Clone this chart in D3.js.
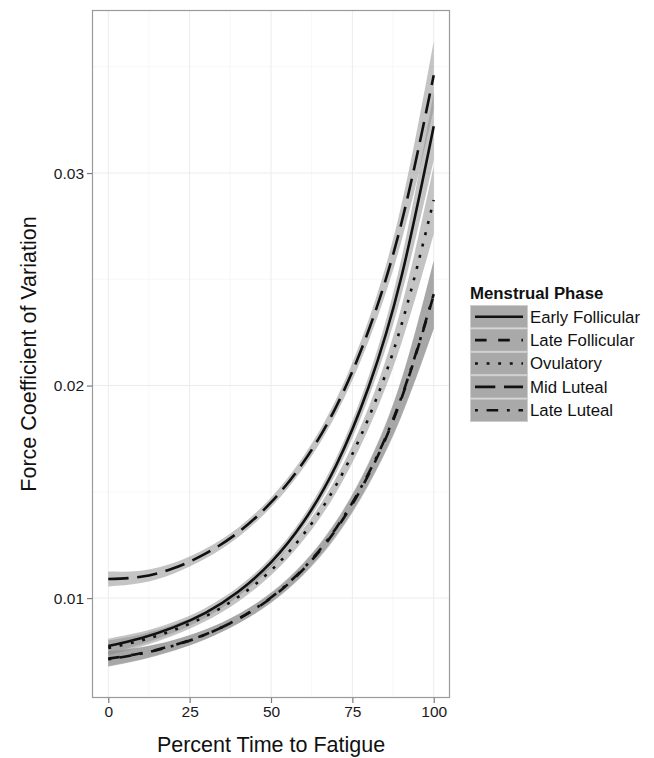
<!DOCTYPE html>
<html>
<head>
<meta charset="utf-8">
<script src="https://cdn.jsdelivr.net/npm/d3@7"></script>
<style>
  body { margin: 0; background: #fff; }
  svg { display: block; font-family: "Liberation Sans", Arial, sans-serif; }
</style>
</head>
<body>
<script>
const w = 654;
const h = 758;

// values (percent time to fatigue -> force CV)
const pctTime = [0, 10, 20, 30, 40, 50, 60, 70, 80, 90, 100];
const earlyFollicular = [0.00774, 0.00811, 0.00862, 0.00932, 0.01031, 0.01168, 0.01359, 0.01624, 0.01993, 0.02507, 0.03220];
const lateFollicular = [0.00715, 0.00740, 0.00778, 0.00830, 0.00902, 0.01000, 0.01136, 0.01323, 0.01581, 0.01936, 0.02426];
const ovulatory = [0.00765, 0.00800, 0.00849, 0.00915, 0.01006, 0.01130, 0.01300, 0.01531, 0.01848, 0.02281, 0.02873];
const midLuteal = [0.01090, 0.01100, 0.01140, 0.01210, 0.01310, 0.01450, 0.01640, 0.01900, 0.02260, 0.02760, 0.03460];
const lateLuteal = [0.00712, 0.00738, 0.00776, 0.00829, 0.00903, 0.01003, 0.01140, 0.01329, 0.01588, 0.01942, 0.02430];
// half width of the confidence band
const bandHalf = [0.00035, 0.00029, 0.00025, 0.00023, 0.00022, 0.00023, 0.00027, 0.00035, 0.00050, 0.00085, 0.00160];

const phases = ["Early Follicular", "Late Follicular", "Ovulatory", "Mid Luteal", "Late Luteal"];
const xTicks = [0, 25, 50, 75, 100];
const xMinor = [12.5, 37.5, 62.5, 87.5];
const yTicks = [0.01, 0.02, 0.03];
const yMinor = [0.015, 0.025, 0.035];

const seriesValues = [earlyFollicular, lateFollicular, ovulatory, midLuteal, lateLuteal];
// R linetypes: solid, dashed, dotted, longdash, dotdash
const dashUnits = [null, [4, 4], [1, 3], [7, 3], [1, 3, 4, 3]];
const unit = 2.9;
const lineW = 2.6;

const panel = { left: 92, right: 450, top: 10, bottom: 698 };

const series = phases.map((name, i) => ({
    name: name,
    dash: dashUnits[i] ? dashUnits[i].map(d => d * unit).join(",") : null,
    points: pctTime.map((t, j) => ({ t: t, v: seriesValues[i][j], lo: seriesValues[i][j] - bandHalf[j], hi: seriesValues[i][j] + bandHalf[j] }))
}));

// ggplot style 5% expansion
const xExt = d3.extent(pctTime);
const xPad = (xExt[1] - xExt[0]) * 0.05;
const allLo = d3.min(series, s => d3.min(s.points, p => p.lo));
const allHi = d3.max(series, s => d3.max(s.points, p => p.hi));
const yPad = (allHi - allLo) * 0.05;

const xScale = d3.scaleLinear()
    .domain([xExt[0] - xPad, xExt[1] + xPad])
    .range([panel.left, panel.right]);

const yScale = d3.scaleLinear()
    .domain([allLo - yPad, allHi + yPad])
    .range([panel.bottom, panel.top]);

const svg = d3.select("body")
    .append("svg")
    .attr("width", w)
    .attr("height", h);

svg.append("rect")
    .attr("x", panel.left).attr("y", panel.top)
    .attr("width", panel.right - panel.left).attr("height", panel.bottom - panel.top)
    .attr("fill", "#fff");

// grid
const grid = svg.append("g");
grid.selectAll(".xminor").data(xMinor).enter().append("line")
    .attr("x1", d => xScale(d)).attr("x2", d => xScale(d))
    .attr("y1", panel.top).attr("y2", panel.bottom)
    .attr("stroke", "#f5f5f5").attr("stroke-width", 0.8);
grid.selectAll(".yminor").data(yMinor).enter().append("line")
    .attr("y1", d => yScale(d)).attr("y2", d => yScale(d))
    .attr("x1", panel.left).attr("x2", panel.right)
    .attr("stroke", "#f5f5f5").attr("stroke-width", 0.8);
grid.selectAll(".xmajor").data(xTicks).enter().append("line")
    .attr("x1", d => xScale(d)).attr("x2", d => xScale(d))
    .attr("y1", panel.top).attr("y2", panel.bottom)
    .attr("stroke", "#ececec").attr("stroke-width", 1);
grid.selectAll(".ymajor").data(yTicks).enter().append("line")
    .attr("y1", d => yScale(d)).attr("y2", d => yScale(d))
    .attr("x1", panel.left).attr("x2", panel.right)
    .attr("stroke", "#ececec").attr("stroke-width", 1);

// clip to the panel
svg.append("clipPath").attr("id", "clip")
    .append("rect")
    .attr("x", panel.left).attr("y", panel.top)
    .attr("width", panel.right - panel.left).attr("height", panel.bottom - panel.top);

const plot = svg.append("g").attr("clip-path", "url(#clip)");

const band = d3.area()
    .x(d => xScale(d.t))
    .y0(d => yScale(d.lo))
    .y1(d => yScale(d.hi))
    .curve(d3.curveNatural);

const line = d3.line()
    .x(d => xScale(d.t))
    .y(d => yScale(d.v))
    .curve(d3.curveNatural);

plot.selectAll(".band").data(series).enter().append("path")
    .attr("d", d => band(d.points))
    .attr("fill", "#8a8a8a")
    .attr("fill-opacity", 0.5);

plot.selectAll(".line").data(series).enter().append("path")
    .attr("d", d => line(d.points))
    .attr("fill", "none")
    .attr("stroke", "#111")
    .attr("stroke-width", lineW)
    .attr("stroke-dasharray", d => d.dash);

// panel border
svg.append("rect")
    .attr("x", panel.left + 0.5).attr("y", panel.top + 0.5)
    .attr("width", panel.right - panel.left - 1).attr("height", panel.bottom - panel.top - 1)
    .attr("fill", "none")
    .attr("stroke", "#9a9a9a")
    .attr("stroke-width", 1.2);

// axes
const xAxis = d3.axisBottom(xScale).tickValues(xTicks).tickSize(5).tickPadding(3);
const yAxis = d3.axisLeft(yScale).tickValues(yTicks).tickSize(5).tickPadding(3).tickFormat(d3.format(".2f"));

const gx = svg.append("g")
    .attr("transform", "translate(0," + panel.bottom + ")")
    .call(xAxis);
const gy = svg.append("g")
    .attr("transform", "translate(" + panel.left + ",0)")
    .call(yAxis);

[gx, gy].forEach(g => {
    g.select(".domain").remove();
    g.selectAll(".tick line").attr("stroke", "#7a7a7a").attr("stroke-width", 1.2);
    g.selectAll(".tick text")
        .attr("fill", "#1a1a1a")
        .style("font-size", "15.5px")
        .style("font-family", "'Liberation Sans', Arial, sans-serif");
});

svg.append("text")
    .attr("x", (panel.left + panel.right) / 2)
    .attr("y", 752)
    .attr("text-anchor", "middle")
    .style("font-size", "21.5px")
    .attr("fill", "#111")
    .text("Percent Time to Fatigue");

svg.append("text")
    .attr("transform", "translate(36," + (panel.top + panel.bottom) / 2 + ") rotate(-90)")
    .attr("text-anchor", "middle")
    .style("font-size", "21.5px")
    .attr("fill", "#111")
    .text("Force Coefficient of Variation");

// legend
const legend = svg.append("g").attr("transform", "translate(470,0)");
const keyTop = 305;
const keyH = 23.4;
const keyW = 58;

legend.append("text")
    .attr("x", 0).attr("y", 299)
    .style("font-size", "16.8px")
    .style("font-weight", "bold")
    .attr("fill", "#111")
    .text("Menstrual Phase");

const keys = legend.selectAll(".key").data(series).enter().append("g")
    .attr("transform", (d, i) => "translate(0," + (keyTop + i * keyH) + ")");

keys.append("rect")
    .attr("x", 0.5).attr("y", 0.5)
    .attr("width", keyW - 1).attr("height", keyH - 1)
    .attr("fill", "#a9a9a9")
    .attr("stroke", "#cdcdcd")
    .attr("stroke-width", 1);

keys.append("line")
    .attr("x1", 5).attr("x2", keyW - 5)
    .attr("y1", keyH / 2).attr("y2", keyH / 2)
    .attr("stroke", "#111")
    .attr("stroke-width", lineW)
    .attr("stroke-dasharray", d => d.dash);

keys.append("text")
    .attr("x", keyW + 2)
    .attr("y", keyH / 2 + 6)
    .style("font-size", "16.8px")
    .attr("fill", "#111")
    .text(d => d.name);
</script>
</body>
</html>
